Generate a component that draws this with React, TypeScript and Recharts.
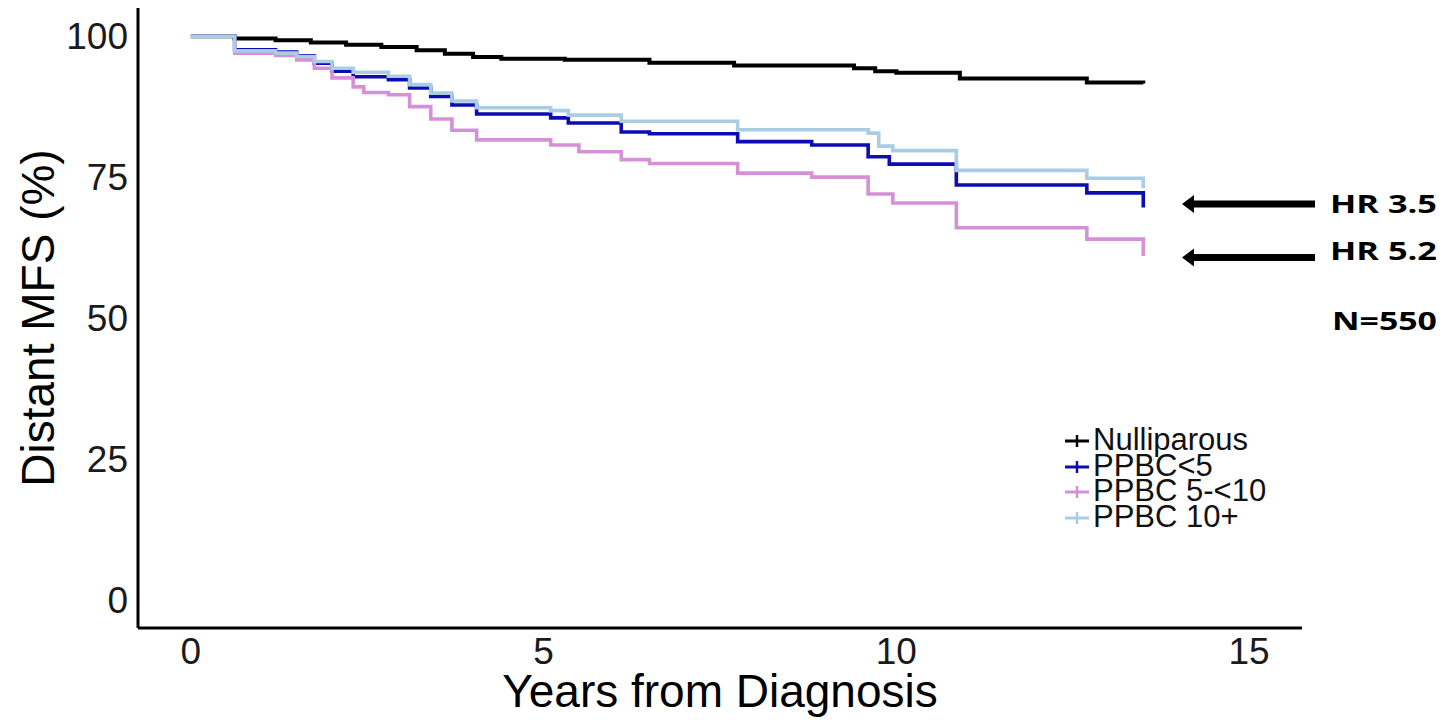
import React from "react";
import { LineChart, Line, XAxis, YAxis } from "recharts";

const xTicks = [0, 5, 10, 15];
const yTicks = [0, 25, 50, 75, 100];

const seriesNames = ["Nulliparous", "PPBC<5", "PPBC 5-<10", "PPBC 10+"];
const seriesColors = ["#000000", "#0c0cb2", "#d690da", "#a9cde4"];

// Kaplan-Meier steps (years, survival %)
const nulliparousYears = [0, 0.62, 1.2, 1.7, 2.2, 2.7, 3.2, 3.6, 4.0, 4.4, 5.3, 6.5, 7.7, 9.4, 9.7, 10.0, 10.9, 12.7, 13.5];
const nulliparousSurv = [100, 99.6, 99.3, 98.9, 98.5, 98.1, 97.5, 96.9, 96.3, 96.0, 95.8, 95.3, 94.8, 94.3, 93.8, 93.5, 92.5, 91.8, 91.6];

const ppbc5Years = [0, 0.62, 1.2, 1.5, 1.75, 2.0, 2.3, 2.8, 3.1, 3.4, 3.7, 4.05, 5.1, 5.35, 6.1, 6.5, 7.75, 8.8, 9.6, 9.9, 10.85, 12.7, 13.5];
const ppbc5Surv = [100, 97.6, 97.2, 96.5, 95.2, 93.8, 92.8, 92.3, 90.8, 89.3, 87.8, 86.2, 85.5, 84.6, 83.0, 82.7, 81.3, 80.7, 78.6, 77.3, 73.6, 72.2, 69.6];

const ppbc510Years = [0, 0.62, 1.2, 1.5, 1.75, 2.0, 2.3, 2.45, 2.8, 3.1, 3.4, 3.7, 4.05, 5.1, 5.5, 6.1, 6.5, 7.75, 8.8, 9.6, 9.95, 10.85, 12.7, 13.5];
const ppbc510Surv = [100, 97.0, 96.6, 95.8, 94.3, 92.6, 91.0, 90.0, 89.6, 87.5, 85.3, 83.3, 81.6, 80.7, 79.5, 78.1, 77.4, 75.7, 75.0, 72.0, 70.4, 66.0, 64.0, 61.0];

const ppbc10Years = [0, 0.62, 1.2, 1.5, 1.75, 2.0, 2.3, 2.8, 3.1, 3.4, 3.7, 4.05, 5.1, 5.35, 6.1, 7.75, 9.6, 9.75, 9.95, 10.85, 12.7, 13.5];
const ppbc10Surv = [100, 97.4, 97.0, 96.4, 95.5, 94.3, 93.6, 92.9, 91.4, 89.9, 88.5, 87.3, 86.8, 86.0, 84.9, 83.4, 82.8, 80.5, 79.7, 76.2, 74.8, 73.0];

const hrLabels = ["HR 3.5", "HR 5.2"];
const nLabel = "N=550";

function toSteps(years: number[], surv: number[]) {
  return years.map((t, i) => ({ t, s: surv[i] }));
}

const seriesData = [
  toSteps(nulliparousYears, nulliparousSurv),
  toSteps(ppbc5Years, ppbc5Surv),
  toSteps(ppbc510Years, ppbc510Surv),
  toSteps(ppbc10Years, ppbc10Surv),
];

const font = "'Liberation Sans', Arial, sans-serif";

function KmLegend() {
  return (
    <div
      style={{
        position: "absolute",
        left: 1063,
        top: 427,
        fontFamily: font,
        fontSize: 31,
        lineHeight: "25.7px",
        color: "#111",
      }}
    >
      {seriesNames.map((name, i) => (
        <div key={name} style={{ display: "flex", alignItems: "center", height: 25.7 }}>
          <svg width={28} height={24} style={{ marginRight: 2 }}>
            <line x1={2} y1={13} x2={26} y2={13} stroke={seriesColors[i]} strokeWidth={3} />
            <line x1={14} y1={7} x2={14} y2={19} stroke={seriesColors[i]} strokeWidth={2.5} />
          </svg>
          <span>{name}</span>
        </div>
      ))}
    </div>
  );
}

function Arrow({ y }: { y: number }) {
  const tip = 1182;
  const tail = 1315;
  const head = 12;
  return (
    <polygon
      points={`${tip},${y} ${tip + head},${y - 9} ${tip + head},${y - 3.5} ${tail},${y - 3.5} ${tail},${y + 3.5} ${tip + head},${y + 3.5} ${tip + head},${y + 9}`}
      fill="#000"
    />
  );
}

export default function App() {
  return (
    <div style={{ position: "absolute", left: 0, top: 0, width: 1442, height: 720, background: "#fff" }}>
      <LineChart width={1442} height={720} margin={{ top: 8, right: 140, bottom: 0, left: 0 }}>
        <XAxis
          dataKey="t"
          type="number"
          domain={[-0.75, 15.75]}
          ticks={xTicks}
          allowDataOverflow
          height={92}
          axisLine={{ stroke: "#000", strokeWidth: 3 }}
          tickLine={false}
          tickSize={8}
          tickMargin={2}
          tick={{ fontSize: 37, fill: "#1a1a1a", fontFamily: font }}
          label={{
            value: "Years from Diagnosis",
            position: "insideBottom",
            offset: 13,
            style: { fontSize: 46, fill: "#000", fontFamily: font },
          }}
        />
        <YAxis
          type="number"
          domain={[-5, 105]}
          ticks={yTicks}
          allowDataOverflow
          width={138}
          axisLine={{ stroke: "#000", strokeWidth: 3 }}
          tickLine={false}
          tickSize={8}
          tickMargin={2}
          tick={{ fontSize: 37, fill: "#1a1a1a", fontFamily: font }}
          label={{
            value: "Distant MFS (%)",
            angle: -90,
            position: "insideLeft",
            offset: 38,
            style: { fontSize: 46, fill: "#000", fontFamily: font, textAnchor: "middle" },
          }}
        />
        {seriesData.map((d, i) => (
          <Line
            key={seriesNames[i]}
            data={d}
            dataKey="s"
            name={seriesNames[i]}
            type="stepAfter"
            stroke={seriesColors[i]}
            strokeWidth={i === 0 ? 4 : 3.6}
            dot={false}
            activeDot={false}
            isAnimationActive={false}
          />
        ))}
      </LineChart>
      <KmLegend />
      <svg width={1442} height={720} style={{ position: "absolute", left: 0, top: 0, pointerEvents: "none" }}>
        <Arrow y={204} />
        <Arrow y={257.5} />
        <g fontFamily="'Open Sans', 'Liberation Sans', sans-serif" fontWeight="bold" fontSize={25} fill="#000">
          <text x={1330} y={213} textLength={107} lengthAdjust="spacingAndGlyphs">{hrLabels[0]}</text>
          <text x={1330} y={260} textLength={107} lengthAdjust="spacingAndGlyphs">{hrLabels[1]}</text>
          <text x={1332} y={330} textLength={105} lengthAdjust="spacingAndGlyphs">{nLabel}</text>
        </g>
      </svg>
    </div>
  );
}
